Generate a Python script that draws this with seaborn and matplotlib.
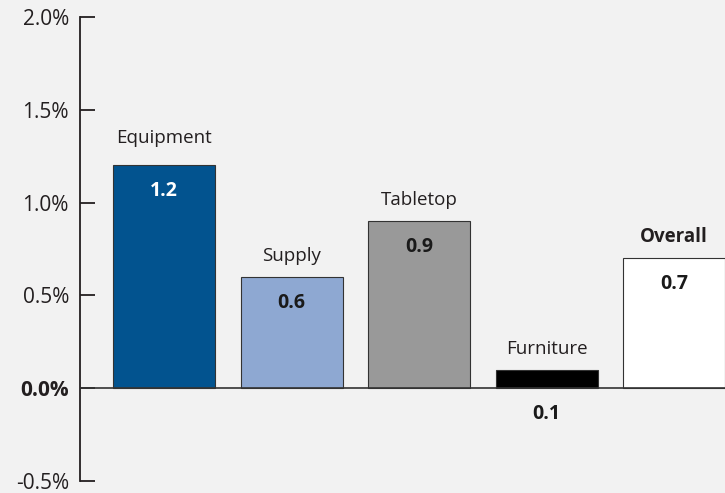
import numpy as np
import pandas as pd
import matplotlib
matplotlib.use("Agg")
import matplotlib.pyplot as plt
import seaborn as sns

categories = ["Equipment", "Supply", "Tabletop", "Furniture", "Overall"]
values = [1.2, 0.6, 0.9, 0.1, 0.7]
bar_colors = ["#02538f", "#8ea8d2", "#999999", "#000000", "#ffffff"]
value_colors = ["white", "#1a1a1a", "#1a1a1a", "#1a1a1a", "#1a1a1a"]
y_ticks = [-0.5, 0.0, 0.5, 1.0, 1.5, 2.0]
y_tick_labels = ["-0.5%", "0.0%", "0.5%", "1.0%", "1.5%", "2.0%"]

BG = "#f2f2f2"
TXT = "#231f20"

sns.set_theme(style="white")
plt.rcParams["font.family"] = ["Open Sans", "DejaVu Sans"]

df = pd.DataFrame({"category": categories, "value": values})

fig = plt.figure(figsize=(7.25, 4.93), dpi=100, facecolor=BG)
ax = fig.add_axes([80 / 725, 1 - 481 / 493, 1 - 80 / 725, (481 - 17) / 493])
ax.set_facecolor(BG)

sns.barplot(data=df, x="category", y="value", hue="category",
            palette=bar_colors, legend=False, width=0.8, saturation=1,
            edgecolor="#333333", linewidth=0.8, ax=ax)

ax.set_ylim(-0.5, 2.0)
ax.set_xlim(-0.66, 4.4)
ax.axhline(0, color="#333333", lw=1.2, zorder=5)

# axis styling
for s in ["top", "right", "bottom"]:
    ax.spines[s].set_visible(False)
ax.spines["left"].set_color(TXT)
ax.spines["left"].set_linewidth(1.3)
ax.set_xticks([])
ax.set_xlabel(""); ax.set_ylabel("")
ax.set_yticks(y_ticks)
ax.set_yticklabels(y_tick_labels, fontsize=15, color=TXT)
ax.tick_params(axis="y", direction="in", length=11, width=1.3, color=TXT, pad=8, left=True)
for lbl in ax.get_yticklabels():
    if lbl.get_text() == "0.0%":
        lbl.set_fontweight("bold")

# category names above bars, values inside (or below zero for short bars)
for i, (cat, v) in enumerate(zip(categories, values)):
    off = 19.5 if cat == "Equipment" else 15
    ax.annotate(cat, (i, v), xytext=(0, off), textcoords="offset points",
                ha="center", va="center", fontsize=13.5, color=TXT,
                fontweight="bold" if cat == "Overall" else "normal")
    base = v if v >= 0.3 else 0
    ax.annotate(f"{v:.1f}", (i, base), xytext=(0, -18.5), textcoords="offset points",
                ha="center", va="center", fontsize=14, fontweight="bold",
                color=value_colors[i])

fig.savefig("out.png", dpi=100, facecolor=BG)
